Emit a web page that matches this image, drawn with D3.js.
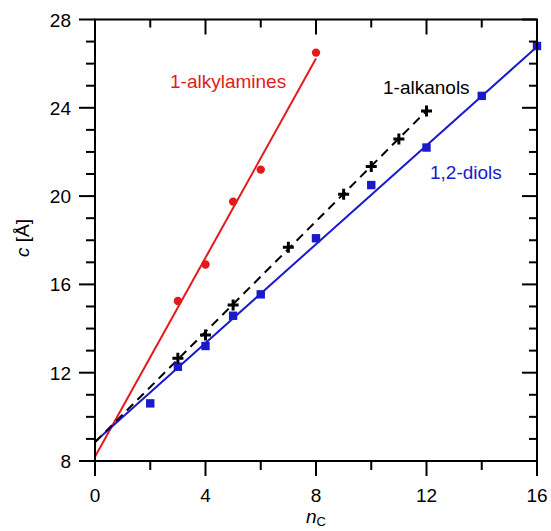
<!DOCTYPE html>
<html><head><meta charset="utf-8">
<script src="https://cdn.jsdelivr.net/npm/d3@7"></script>
<style>body{margin:0;background:#fff}svg{display:block}text{font-family:"Liberation Sans",Arial,sans-serif}</style>
</head><body><svg id="c" width="551" height="531"></svg>
<script>
// Data
const aminesN = [3, 4, 5, 6, 8];
const aminesC = [15.25, 16.9, 19.75, 21.2, 26.5];
const alkanolsN = [3, 4, 5, 7, 9, 10, 11, 12];
const alkanolsC = [12.65, 13.71, 15.07, 17.68, 20.08, 21.34, 22.59, 23.86];
const diolsN = [2, 3, 4, 5, 6, 8, 10, 12, 14, 16];
const diolsC = [10.61, 12.27, 13.21, 14.58, 15.55, 18.09, 20.5, 22.2, 24.54, 26.8];
// fitted lines (endpoints)
const aminesFitN = [0, 8], aminesFitC = [8.19, 26.23];
const alkanolsFitN = [0, 12], alkanolsFitC = [8.85, 23.86];
const diolsFitN = [0, 16], diolsFitC = [8.87, 26.77];
const xTicks = [0, 4, 8, 12, 16];
const yTicks = [8, 12, 16, 20, 24, 28];

const svg = d3.select("#c");
const L = 95, R = 537, T = 19.5, B = 461;
const x = d3.scaleLinear().domain([0, 16]).range([L, R]);
const y = d3.scaleLinear().domain([8, 28]).range([B, T]);

const red = "#e31a1c", blue = "#1a1acc", black = "#000";

// lines
const line = d3.line().x(d => x(d[0])).y(d => y(d[1]));
function fit(ns, cs) { return ns.map((n, i) => [n, cs[i]]); }
svg.append("path").attr("d", line(fit(aminesFitN, aminesFitC))).attr("stroke", red).attr("stroke-width", 2).attr("fill", "none");
svg.append("path").attr("d", line(fit(diolsFitN, diolsFitC))).attr("stroke", blue).attr("stroke-width", 2).attr("fill", "none");
svg.append("path").attr("d", line(fit(alkanolsFitN, alkanolsFitC))).attr("stroke", black).attr("stroke-width", 2).attr("stroke-dasharray", "9,6").attr("fill", "none");

// markers
svg.selectAll(".am").data(fit(aminesN, aminesC)).join("circle")
  .attr("cx", d => x(d[0])).attr("cy", d => y(d[1])).attr("r", 4.2).attr("fill", red);
svg.selectAll(".di").data(fit(diolsN, diolsC)).join("rect")
  .attr("x", d => x(d[0]) - 4.2).attr("y", d => y(d[1]) - 4.2).attr("width", 8.4).attr("height", 8.4).attr("fill", blue);
svg.selectAll(".al").data(fit(alkanolsN, alkanolsC)).join("path")
  .attr("d", d3.symbol().type({draw(ctx, s){ const h = 5.5; ctx.moveTo(-h,0); ctx.lineTo(h,0); ctx.moveTo(0,-h); ctx.lineTo(0,h);} })())
  .attr("transform", d => `translate(${x(d[0])},${y(d[1])})`)
  .attr("stroke", black).attr("stroke-width", 3).attr("fill", "none");

// axes
const ax = svg.append("g").attr("stroke", "#000").attr("stroke-width", 2);
ax.append("rect").attr("x", L).attr("y", T).attr("width", R - L).attr("height", B - T).attr("fill", "none");
for (let n = 0; n <= 16; n += 2) {
  const major = n % 4 === 0;
  const xp = x(n);
  ax.append("line").attr("x1", xp).attr("x2", xp).attr("y1", B).attr("y2", B + (major ? 15 : 9));
  ax.append("line").attr("x1", xp).attr("x2", xp).attr("y1", T).attr("y2", T + (major ? 15 : 8));
}
for (let v = 8; v <= 28; v += 1) {
  const major = v % 4 === 0;
  const yp = y(v);
  ax.append("line").attr("x1", L).attr("x2", L - (major ? 16 : 9)).attr("y1", yp).attr("y2", yp);
  ax.append("line").attr("x1", R).attr("x2", R - (major ? 15 : 8)).attr("y1", yp).attr("y2", yp);
}
svg.selectAll(".xt").data(xTicks).join("text")
  .attr("x", d => x(d)).attr("y", 502).attr("text-anchor", "middle").attr("font-size", 19).text(d => d);
svg.selectAll(".yt").data(yTicks).join("text")
  .attr("x", 71).attr("y", d => y(d) + 7).attr("text-anchor", "end").attr("font-size", 19).text(d => d);

// axis titles
const xl = svg.append("text").attr("x", 316).attr("y", 523).attr("text-anchor", "middle").attr("font-size", 19);
xl.append("tspan").attr("font-style", "italic").text("n");
xl.append("tspan").attr("font-size", 13).attr("dy", 3).text("C");
const yl = svg.append("text").attr("transform", "translate(29,238) rotate(-90)").attr("text-anchor", "middle").attr("font-size", 19);
yl.append("tspan").attr("font-style", "italic").text("c");
yl.append("tspan").text(" [Å]");

// series labels
svg.append("text").attr("x", 170).attr("y", 88).attr("font-size", 19).attr("fill", red).text("1-alkylamines");
svg.append("text").attr("x", 383).attr("y", 94).attr("font-size", 19).attr("fill", black).text("1-alkanols");
svg.append("text").attr("x", 430).attr("y", 179).attr("font-size", 19).attr("fill", blue).text("1,2-diols");
</script></body></html>
